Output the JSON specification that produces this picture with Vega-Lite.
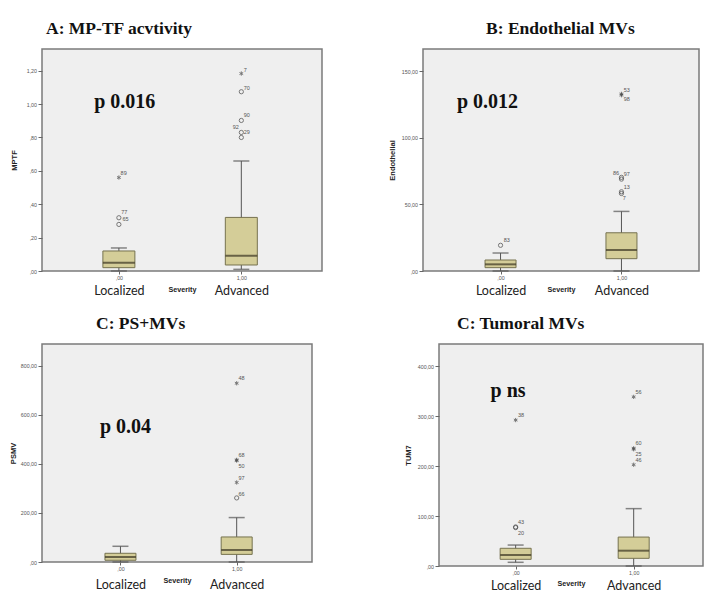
{
  "$schema": "https://vega.github.io/schema/vega-lite/v6.json",
  "background": "white",
  "padding": {"left": 8, "top": 18, "right": 0, "bottom": 0},
  "columns": 1,
  "spacing": 15,
  "config": {
    "view": {"fill": "#efefef", "stroke": "#7b7b7b", "strokeWidth": 1.5},
    "title": {"font": "Liberation Serif", "fontSize": 17.5, "fontWeight": "bold", "color": "#111", "anchor": "start", "frame": "group", "offset": 12},
    "axis": {"labelFont": "Liberation Sans", "labelFontSize": 5.3, "labelColor": "#555", "tickSize": 4, "tickColor": "#666", "domain": false, "grid": false, "titleFont": "Liberation Sans", "titleFontSize": 7.5, "titleFontWeight": "bold", "titleColor": "#222", "labelPadding": 1.5, "titlePadding": 5},
    "axisX": {"labelAngle": 0},
    "point": {"filled": false, "strokeWidth": 1, "color": "#444", "size": 18},
    "text": {"font": "Liberation Sans", "fontSize": 5.5, "color": "#555", "align": "left", "baseline": "middle"}
  },
  "datasets": {
    "boxA": [{"g": 0, "low": 0, "q1": 0.02, "median": 0.05, "q3": 0.12, "high": 0.138}, {"g": 1, "low": 0.01, "q1": 0.036, "median": 0.092, "q3": 0.321, "high": 0.659}],
    "outA": [{"g": 0, "v": 0.56, "t": "*"}, {"g": 0, "v": 0.319, "t": "o"}, {"g": 0, "v": 0.279, "t": "o"}, {"g": 1, "v": 1.183, "t": "*"}, {"g": 1, "v": 1.074, "t": "o"}, {"g": 1, "v": 0.902, "t": "o"}, {"g": 1, "v": 0.83, "t": "o"}, {"g": 1, "v": 0.8, "t": "o"}],
    "labA": [{"lx": 0.014, "ly": 0.59, "lab": "89"}, {"lx": 0.019, "ly": 0.351, "lab": "77"}, {"lx": 0.03, "ly": 0.311, "lab": "65"}, {"lx": 1.02, "ly": 1.207, "lab": "7"}, {"lx": 1.02, "ly": 1.099, "lab": "70"}, {"lx": 1.02, "ly": 0.934, "lab": "90"}, {"lx": 0.929, "ly": 0.86, "lab": "92"}, {"lx": 1.02, "ly": 0.83, "lab": "29"}],
    "pA": [{"x": -0.202, "y": 0.974, "t": "p 0.016"}],
    "boxB": [{"g": 0, "low": 0, "q1": 2.5, "median": 5, "q3": 8.25, "high": 13.5}, {"g": 1, "low": 0, "q1": 9.25, "median": 15.75, "q3": 28.7, "high": 44.75}],
    "outB": [{"g": 0, "v": 19.3, "t": "o"}, {"g": 1, "v": 133, "t": "*"}, {"g": 1, "v": 132, "t": "*"}, {"g": 1, "v": 70.3, "t": "o"}, {"g": 1, "v": 69, "t": "o"}, {"g": 1, "v": 59.5, "t": "o"}, {"g": 1, "v": 58.2, "t": "o"}],
    "labB": [{"lx": 0.026, "ly": 23, "lab": "83"}, {"lx": 1.018, "ly": 135.75, "lab": "53"}, {"lx": 1.018, "ly": 129.2, "lab": "98"}, {"lx": 0.93, "ly": 73.7, "lab": "86"}, {"lx": 1.018, "ly": 72.5, "lab": "97"}, {"lx": 1.018, "ly": 63.2, "lab": "13"}, {"lx": 1.01, "ly": 54.5, "lab": "7"}],
    "pB": [{"x": -0.361, "y": 122.4, "t": "p 0.012"}],
    "boxC": [{"g": 0, "low": 0, "q1": 7, "median": 20.4, "q3": 35.5, "high": 64}, {"g": 1, "low": 0, "q1": 31, "median": 49, "q3": 102, "high": 181}],
    "outC": [{"g": 1, "v": 728, "t": "*"}, {"g": 1, "v": 416, "t": "*"}, {"g": 1, "v": 413, "t": "*"}, {"g": 1, "v": 324, "t": "*"}, {"g": 1, "v": 261, "t": "o"}],
    "labC": [{"lx": 1.015, "ly": 750, "lab": "48"}, {"lx": 1.015, "ly": 437, "lab": "68"}, {"lx": 1.015, "ly": 392, "lab": "50"}, {"lx": 1.015, "ly": 342, "lab": "97"}, {"lx": 1.015, "ly": 279, "lab": "66"}],
    "pC": [{"x": -0.176, "y": 525, "t": "p 0.04"}],
    "boxD": [{"g": 0, "low": 7.4, "q1": 13.4, "median": 22, "q3": 35.5, "high": 42}, {"g": 1, "low": 0, "q1": 15.4, "median": 30.7, "q3": 58, "high": 115}],
    "outD": [{"g": 0, "v": 292.5, "t": "*"}, {"g": 0, "v": 78.3, "t": "o"}, {"g": 0, "v": 77, "t": "o"}, {"g": 1, "v": 339, "t": "*"}, {"g": 1, "v": 236, "t": "*"}, {"g": 1, "v": 234, "t": "*"}, {"g": 1, "v": 203, "t": "*"}],
    "labD": [{"lx": 0.02, "ly": 302, "lab": "38"}, {"lx": 0.02, "ly": 88.4, "lab": "43"}, {"lx": 0.02, "ly": 66.9, "lab": "20"}, {"lx": 1.015, "ly": 348, "lab": "56"}, {"lx": 1.015, "ly": 245.6, "lab": "60"}, {"lx": 1.015, "ly": 225.5, "lab": "25"}, {"lx": 1.015, "ly": 212.2, "lab": "46"}],
    "pD": [{"x": -0.213, "y": 338, "t": "p ns"}]
  },
  "concat": [
    {
      "spacing": 64,
      "hconcat": [
        {
          "width": 280, "height": 222,
          "title": {"text": "A: MP-TF acvtivity", "dx": 4},
          "resolve": {"axis": {"x": "independent", "y": "independent"}},
          "layer": [
            {"data": {"name": "boxA"}, "mark": {"type": "rule", "color": "#555", "strokeWidth": 1},
             "encoding": {
               "x": {"field": "g", "type": "quantitative", "scale": {"domain": [-0.587, 1.618], "nice": false, "zero": false},
                     "axis": {"orient": "bottom", "values": [0, 1], "labelExpr": "datum.value == 0 ? ',00' : '1,00'", "title": "Severity", "titleFontSize": 7.2, "titlePadding": 5, "tickSize": 3}},
               "y": {"field": "low", "type": "quantitative", "scale": {"domain": [0, 1.33], "nice": false, "zero": false},
                     "axis": {"orient": "left", "values": [0, 0.2, 0.4, 0.6, 0.8, 1.0, 1.2], "labelExpr": "datum.value < 1 ? replace(format(datum.value, '.2f'), '0.', ',') : replace(format(datum.value, '.2f'), '.', ',')", "title": "MPTF", "titlePadding": 8}},
               "y2": {"field": "high"}}},
            {"data": {"name": "boxA"}, "mark": {"type": "bar", "width": 32, "fill": "#d4cd98", "stroke": "#76724f", "strokeWidth": 1},
             "encoding": {"x": {"field": "g", "type": "quantitative", "axis": null}, "y": {"field": "q1", "type": "quantitative", "axis": null}, "y2": {"field": "q3"}}},
            {"data": {"name": "boxA"}, "mark": {"type": "tick", "orient": "horizontal", "size": 32, "thickness": 2, "color": "#3b3522"},
             "encoding": {"x": {"field": "g", "type": "quantitative", "axis": null}, "y": {"field": "median", "type": "quantitative", "axis": null}}},
            {"data": {"name": "boxA"}, "mark": {"type": "tick", "orient": "horizontal", "size": 16, "thickness": 1.5, "color": "#555"},
             "encoding": {"x": {"field": "g", "type": "quantitative", "axis": null}, "y": {"field": "high", "type": "quantitative", "axis": null}}},
            {"data": {"name": "boxA"}, "mark": {"type": "tick", "orient": "horizontal", "size": 16, "thickness": 1.5, "color": "#555"},
             "encoding": {"x": {"field": "g", "type": "quantitative",
                     "axis": {"orient": "bottom", "offset": 13, "values": [0, 1], "labelExpr": "datum.value == 0 ? 'Localized' : 'Advanced'", "ticks": false, "domain": false, "title": null, "labelFont": "Lato", "labelFontSize": 12.5, "labelColor": "#222", "labelPadding": 0}},
                          "y": {"field": "low", "type": "quantitative", "axis": null}}},
            {"data": {"name": "outA"}, "mark": {"type": "point"},
             "encoding": {"x": {"field": "g", "type": "quantitative", "axis": null}, "y": {"field": "v", "type": "quantitative", "axis": null},
                          "shape": {"field": "t", "type": "nominal", "scale": {"domain": ["o", "*"], "range": ["circle", "M0,-1L0,1M-0.87,-0.5L0.87,0.5M-0.87,0.5L0.87,-0.5"]}, "legend": null}}},
            {"data": {"name": "labA"}, "mark": {"type": "text"},
             "encoding": {"x": {"field": "lx", "type": "quantitative", "axis": null}, "y": {"field": "ly", "type": "quantitative", "axis": null}, "text": {"field": "lab"}}},
            {"data": {"name": "pA"}, "mark": {"type": "text", "font": "Liberation Serif", "fontWeight": "bold", "fontSize": 20, "color": "#111", "baseline": "alphabetic"},
             "encoding": {"x": {"field": "x", "type": "quantitative", "axis": null}, "y": {"field": "y", "type": "quantitative", "axis": null}, "text": {"field": "t"}}}
          ]
        },
        {
          "width": 276, "height": 222,
          "title": {"text": "B: Endothelial MVs", "dx": 63},
          "resolve": {"axis": {"x": "independent", "y": "independent"}},
          "layer": [
            {"data": {"name": "boxB"}, "mark": {"type": "rule", "color": "#555", "strokeWidth": 1},
             "encoding": {
               "x": {"field": "g", "type": "quantitative", "scale": {"domain": [-0.6, 1.6], "nice": false, "zero": false},
                     "axis": {"orient": "bottom", "values": [0, 1], "labelExpr": "datum.value == 0 ? ',00' : '1,00'", "title": "Severity", "titleFontSize": 7.2, "titlePadding": 5, "tickSize": 3}},
               "y": {"field": "low", "type": "quantitative", "scale": {"domain": [0, 166.7], "nice": false, "zero": false},
                     "axis": {"orient": "left", "values": [0, 50, 100, 150], "labelExpr": "datum.value < 1 ? replace(format(datum.value, '.2f'), '0.', ',') : replace(format(datum.value, '.2f'), '.', ',')", "title": "Endothelial"}},
               "y2": {"field": "high"}}},
            {"data": {"name": "boxB"}, "mark": {"type": "bar", "width": 31, "fill": "#d4cd98", "stroke": "#76724f", "strokeWidth": 1},
             "encoding": {"x": {"field": "g", "type": "quantitative", "axis": null}, "y": {"field": "q1", "type": "quantitative", "axis": null}, "y2": {"field": "q3"}}},
            {"data": {"name": "boxB"}, "mark": {"type": "tick", "orient": "horizontal", "size": 31, "thickness": 2, "color": "#3b3522"},
             "encoding": {"x": {"field": "g", "type": "quantitative", "axis": null}, "y": {"field": "median", "type": "quantitative", "axis": null}}},
            {"data": {"name": "boxB"}, "mark": {"type": "tick", "orient": "horizontal", "size": 16, "thickness": 1.5, "color": "#555"},
             "encoding": {"x": {"field": "g", "type": "quantitative", "axis": null}, "y": {"field": "high", "type": "quantitative", "axis": null}}},
            {"data": {"name": "boxB"}, "mark": {"type": "tick", "orient": "horizontal", "size": 16, "thickness": 1.5, "color": "#555"},
             "encoding": {"x": {"field": "g", "type": "quantitative",
                     "axis": {"orient": "bottom", "offset": 13, "values": [0, 1], "labelExpr": "datum.value == 0 ? 'Localized' : 'Advanced'", "ticks": false, "domain": false, "title": null, "labelFont": "Lato", "labelFontSize": 12.5, "labelColor": "#222", "labelPadding": 0}},
                          "y": {"field": "low", "type": "quantitative", "axis": null}}},
            {"data": {"name": "outB"}, "mark": {"type": "point"},
             "encoding": {"x": {"field": "g", "type": "quantitative", "axis": null}, "y": {"field": "v", "type": "quantitative", "axis": null},
                          "shape": {"field": "t", "type": "nominal", "scale": {"domain": ["o", "*"], "range": ["circle", "M0,-1L0,1M-0.87,-0.5L0.87,0.5M-0.87,0.5L0.87,-0.5"]}, "legend": null}}},
            {"data": {"name": "labB"}, "mark": {"type": "text"},
             "encoding": {"x": {"field": "lx", "type": "quantitative", "axis": null}, "y": {"field": "ly", "type": "quantitative", "axis": null}, "text": {"field": "lab"}}},
            {"data": {"name": "pB"}, "mark": {"type": "text", "font": "Liberation Serif", "fontWeight": "bold", "fontSize": 20, "color": "#111", "baseline": "alphabetic"},
             "encoding": {"x": {"field": "x", "type": "quantitative", "axis": null}, "y": {"field": "y", "type": "quantitative", "axis": null}, "text": {"field": "t"}}}
          ]
        }
      ]
    },
    {
      "spacing": 90,
      "hconcat": [
        {
          "width": 270, "height": 218,
          "title": {"text": "C: PS+MVs", "dx": 54},
          "resolve": {"axis": {"x": "independent", "y": "independent"}},
          "layer": [
            {"data": {"name": "boxC"}, "mark": {"type": "rule", "color": "#555", "strokeWidth": 1},
             "encoding": {
               "x": {"field": "g", "type": "quantitative", "scale": {"domain": [-0.632, 1.605], "nice": false, "zero": false},
                     "axis": {"orient": "bottom", "values": [0, 1], "labelExpr": "datum.value == 0 ? ',00' : '1,00'", "title": "Severity", "titleFontSize": 7.2, "titlePadding": 5, "tickSize": 3}},
               "y": {"field": "low", "type": "quantitative", "scale": {"domain": [0, 888], "nice": false, "zero": false},
                     "axis": {"orient": "left", "values": [0, 200, 400, 600, 800], "labelExpr": "datum.value < 1 ? replace(format(datum.value, '.2f'), '0.', ',') : replace(format(datum.value, '.2f'), '.', ',')", "title": "PSMV", "titlePadding": 3}},
               "y2": {"field": "high"}}},
            {"data": {"name": "boxC"}, "mark": {"type": "bar", "width": 31, "fill": "#d4cd98", "stroke": "#76724f", "strokeWidth": 1},
             "encoding": {"x": {"field": "g", "type": "quantitative", "axis": null}, "y": {"field": "q1", "type": "quantitative", "axis": null}, "y2": {"field": "q3"}}},
            {"data": {"name": "boxC"}, "mark": {"type": "tick", "orient": "horizontal", "size": 31, "thickness": 2, "color": "#3b3522"},
             "encoding": {"x": {"field": "g", "type": "quantitative", "axis": null}, "y": {"field": "median", "type": "quantitative", "axis": null}}},
            {"data": {"name": "boxC"}, "mark": {"type": "tick", "orient": "horizontal", "size": 16, "thickness": 1.5, "color": "#555"},
             "encoding": {"x": {"field": "g", "type": "quantitative", "axis": null}, "y": {"field": "high", "type": "quantitative", "axis": null}}},
            {"data": {"name": "boxC"}, "mark": {"type": "tick", "orient": "horizontal", "size": 16, "thickness": 1.5, "color": "#555"},
             "encoding": {"x": {"field": "g", "type": "quantitative",
                     "axis": {"orient": "bottom", "offset": 16, "values": [0, 1], "labelExpr": "datum.value == 0 ? 'Localized' : 'Advanced'", "ticks": false, "domain": false, "title": null, "labelFont": "Lato", "labelFontSize": 12.5, "labelColor": "#222", "labelPadding": 0}},
                          "y": {"field": "low", "type": "quantitative", "axis": null}}},
            {"data": {"name": "outC"}, "mark": {"type": "point"},
             "encoding": {"x": {"field": "g", "type": "quantitative", "axis": null}, "y": {"field": "v", "type": "quantitative", "axis": null},
                          "shape": {"field": "t", "type": "nominal", "scale": {"domain": ["o", "*"], "range": ["circle", "M0,-1L0,1M-0.87,-0.5L0.87,0.5M-0.87,0.5L0.87,-0.5"]}, "legend": null}}},
            {"data": {"name": "labC"}, "mark": {"type": "text"},
             "encoding": {"x": {"field": "lx", "type": "quantitative", "axis": null}, "y": {"field": "ly", "type": "quantitative", "axis": null}, "text": {"field": "lab"}}},
            {"data": {"name": "pC"}, "mark": {"type": "text", "font": "Liberation Serif", "fontWeight": "bold", "fontSize": 20, "color": "#111", "baseline": "alphabetic"},
             "encoding": {"x": {"field": "x", "type": "quantitative", "axis": null}, "y": {"field": "y", "type": "quantitative", "axis": null}, "text": {"field": "t"}}}
          ]
        },
        {
          "width": 264, "height": 222,
          "title": {"text": "C: Tumoral MVs", "dx": 18},
          "resolve": {"axis": {"x": "independent", "y": "independent"}},
          "layer": [
            {"data": {"name": "boxD"}, "mark": {"type": "rule", "color": "#555", "strokeWidth": 1},
             "encoding": {
               "x": {"field": "g", "type": "quantitative", "scale": {"domain": [-0.607, 1.545], "nice": false, "zero": false},
                     "axis": {"orient": "bottom", "values": [0, 1], "labelExpr": "datum.value == 0 ? ',00' : '1,00'", "title": "Severity", "titleFontSize": 7.2, "titlePadding": 4, "tickSize": 3}},
               "y": {"field": "low", "type": "quantitative", "scale": {"domain": [0, 445], "nice": false, "zero": false},
                     "axis": {"orient": "left", "values": [0, 100, 200, 300, 400], "labelExpr": "datum.value < 1 ? replace(format(datum.value, '.2f'), '0.', ',') : replace(format(datum.value, '.2f'), '.', ',')", "title": "TUM7"}},
               "y2": {"field": "high"}}},
            {"data": {"name": "boxD"}, "mark": {"type": "bar", "width": 31, "fill": "#d4cd98", "stroke": "#76724f", "strokeWidth": 1},
             "encoding": {"x": {"field": "g", "type": "quantitative", "axis": null}, "y": {"field": "q1", "type": "quantitative", "axis": null}, "y2": {"field": "q3"}}},
            {"data": {"name": "boxD"}, "mark": {"type": "tick", "orient": "horizontal", "size": 31, "thickness": 2, "color": "#3b3522"},
             "encoding": {"x": {"field": "g", "type": "quantitative", "axis": null}, "y": {"field": "median", "type": "quantitative", "axis": null}}},
            {"data": {"name": "boxD"}, "mark": {"type": "tick", "orient": "horizontal", "size": 16, "thickness": 1.5, "color": "#555"},
             "encoding": {"x": {"field": "g", "type": "quantitative", "axis": null}, "y": {"field": "high", "type": "quantitative", "axis": null}}},
            {"data": {"name": "boxD"}, "mark": {"type": "tick", "orient": "horizontal", "size": 16, "thickness": 1.5, "color": "#555"},
             "encoding": {"x": {"field": "g", "type": "quantitative",
                     "axis": {"orient": "bottom", "offset": 13, "values": [0, 1], "labelExpr": "datum.value == 0 ? 'Localized' : 'Advanced'", "ticks": false, "domain": false, "title": null, "labelFont": "Lato", "labelFontSize": 12.5, "labelColor": "#222", "labelPadding": 0}},
                          "y": {"field": "low", "type": "quantitative", "axis": null}}},
            {"data": {"name": "outD"}, "mark": {"type": "point"},
             "encoding": {"x": {"field": "g", "type": "quantitative", "axis": null}, "y": {"field": "v", "type": "quantitative", "axis": null},
                          "shape": {"field": "t", "type": "nominal", "scale": {"domain": ["o", "*"], "range": ["circle", "M0,-1L0,1M-0.87,-0.5L0.87,0.5M-0.87,0.5L0.87,-0.5"]}, "legend": null}}},
            {"data": {"name": "labD"}, "mark": {"type": "text"},
             "encoding": {"x": {"field": "lx", "type": "quantitative", "axis": null}, "y": {"field": "ly", "type": "quantitative", "axis": null}, "text": {"field": "lab"}}},
            {"data": {"name": "pD"}, "mark": {"type": "text", "font": "Liberation Serif", "fontWeight": "bold", "fontSize": 20, "color": "#111", "baseline": "alphabetic"},
             "encoding": {"x": {"field": "x", "type": "quantitative", "axis": null}, "y": {"field": "y", "type": "quantitative", "axis": null}, "text": {"field": "t"}}}
          ]
        }
      ]
    }
  ]
}
